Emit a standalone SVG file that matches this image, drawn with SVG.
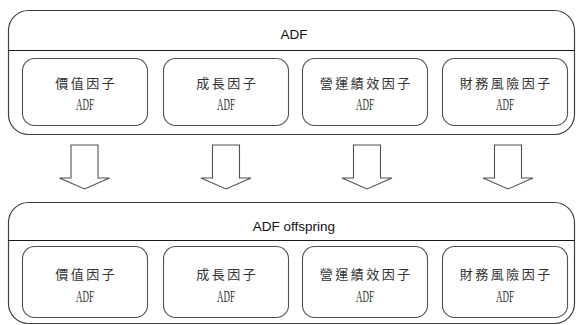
<svg xmlns="http://www.w3.org/2000/svg" width="576" height="325" viewBox="0 0 576 325">
<defs>
<style>
.outer{fill:#fff;stroke:#404040;stroke-width:1.2}
.div{stroke:#1a1a1a;stroke-width:1.2}
.inner{fill:#fff;stroke:#505050;stroke-width:1.1}
.title{font-family:"Liberation Sans",Arial,sans-serif;font-size:13.5px;fill:#111;text-anchor:middle}
.zh{font-family:"Noto Sans CJK TC","Noto Sans CJK SC",sans-serif;font-size:13px;letter-spacing:2.5px;fill:#333;text-anchor:middle}
.adf{font-family:"Liberation Serif","Times New Roman",serif;font-size:16.5px;fill:#333;text-anchor:middle}
.arrow{fill:#fff;stroke:#505050;stroke-width:1.1;stroke-linejoin:miter}
</style>
<path id="arr" d="M-13.5,0 H13.5 V33 H25 L0,44 L-25,33 H-13.5 Z"/>
</defs>
<rect width="576" height="325" fill="#fff"/>

<g id="top-container">
<rect class="outer" x="8.5" y="10.5" width="566" height="124" rx="20"/>
<line class="div" x1="8.5" y1="50.5" x2="574.5" y2="50.5"/>
<text class="title" x="294" y="39">ADF</text>
</g>
<g id="top-value">
<rect class="inner" x="22.5" y="58.5" width="125" height="67" rx="12"/>
<text class="zh" x="86.2" y="88">價值因子</text>
<text class="adf" x="85" y="109.5" textLength="18" lengthAdjust="spacingAndGlyphs">ADF</text>
</g>
<g id="top-growth">
<rect class="inner" x="163.5" y="58.5" width="125" height="67" rx="12"/>
<text class="zh" x="227.2" y="88">成長因子</text>
<text class="adf" x="226" y="109.5" textLength="18" lengthAdjust="spacingAndGlyphs">ADF</text>
</g>
<g id="top-operating">
<rect class="inner" x="302.5" y="58.5" width="125" height="67" rx="12"/>
<text class="zh" x="366.2" y="88">營運績效因子</text>
<text class="adf" x="365" y="109.5" textLength="18" lengthAdjust="spacingAndGlyphs">ADF</text>
</g>
<g id="top-financial">
<rect class="inner" x="442.5" y="58.5" width="125" height="67" rx="12"/>
<text class="zh" x="506.2" y="88">財務風險因子</text>
<text class="adf" x="505" y="109.5" textLength="18" lengthAdjust="spacingAndGlyphs">ADF</text>
</g>

<g id="connectors">
<use href="#arr" class="arrow" x="84.5" y="145"/>
<use href="#arr" class="arrow" x="226" y="145"/>
<use href="#arr" class="arrow" x="367" y="145"/>
<use href="#arr" class="arrow" x="508" y="145"/>
</g>

<g id="bottom-container">
<rect class="outer" x="8.5" y="202.5" width="566" height="121" rx="20"/>
<line class="div" x1="8.5" y1="240.5" x2="574.5" y2="240.5"/>
<text class="title" x="294" y="231">ADF offspring</text>
</g>
<g id="bottom-value">
<rect class="inner" x="22.5" y="246.5" width="125" height="71" rx="12"/>
<text class="zh" x="86.2" y="279">價值因子</text>
<text class="adf" x="85" y="301.5" textLength="18" lengthAdjust="spacingAndGlyphs">ADF</text>
</g>
<g id="bottom-growth">
<rect class="inner" x="163.5" y="246.5" width="125" height="71" rx="12"/>
<text class="zh" x="227.2" y="279">成長因子</text>
<text class="adf" x="226" y="301.5" textLength="18" lengthAdjust="spacingAndGlyphs">ADF</text>
</g>
<g id="bottom-operating">
<rect class="inner" x="302.5" y="246.5" width="125" height="71" rx="12"/>
<text class="zh" x="366.2" y="279">營運績效因子</text>
<text class="adf" x="365" y="301.5" textLength="18" lengthAdjust="spacingAndGlyphs">ADF</text>
</g>
<g id="bottom-financial">
<rect class="inner" x="442.5" y="246.5" width="125" height="71" rx="12"/>
<text class="zh" x="506.2" y="279">財務風險因子</text>
<text class="adf" x="505" y="301.5" textLength="18" lengthAdjust="spacingAndGlyphs">ADF</text>
</g>
</svg>
